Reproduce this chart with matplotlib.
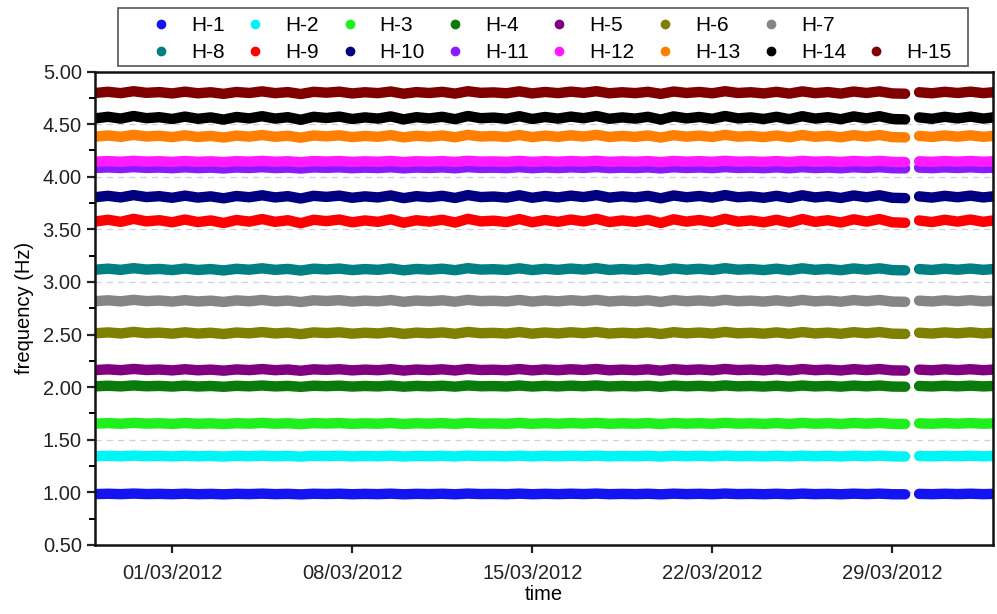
import numpy as np
import pandas as pd
import matplotlib
matplotlib.use("Agg")
import matplotlib.pyplot as plt
import matplotlib.dates as mdates
from matplotlib.lines import Line2D
from matplotlib.patches import Rectangle

plt.rcParams['font.family'] = ['Liberation Sans', 'DejaVu Sans']

# series names, mean frequency (Hz) and size of the daily swing (Hz)
names = ['H-1', 'H-2', 'H-3', 'H-4', 'H-5', 'H-6', 'H-7', 'H-8',
         'H-9', 'H-10', 'H-11', 'H-12', 'H-13', 'H-14', 'H-15']
base_freq = [0.985, 1.345, 1.655, 2.010, 2.165, 2.515, 2.820, 3.120,
             3.580, 3.810, 4.085, 4.145, 4.385, 4.560, 4.800]
swing = [0.004, 0.005, 0.006, 0.007, 0.009, 0.011, 0.011, 0.012,
         0.022, 0.017, 0.007, 0.007, 0.014, 0.019, 0.014]
colors = ['#1414f0', '#00f5f5', '#1ef01e', '#0a7a0a', '#800080', '#808000',
          '#858585', '#008080', '#ff0000', '#000080', '#8a1aff', '#ff1aff',
          '#ff8000', '#000000', '#800000']

swing_seg1 = [-0.3, 0.5, -0.4, 0.9, -0.2, 0.3, -0.6, 0.6,
              -0.5, 0.2, -0.9, 0.4, -0.3, 0.8, -0.4, 0.3,
              -1.0, 0.5, -0.1, 0.6, -0.6, 0.2, -0.4, 0.7,
              -0.8, 0.3, -0.3, 0.5, -0.7, 0.9, -0.2, 0.1,
              -0.5, 0.8, -0.6, 0.4, -0.4, 0.6, -0.2, 0.9,
              -0.5, 0.2, -0.4, 0.5, -0.9, 0.7, -0.3, 0.4,
              -0.5, 0.9, -0.3, 0.2, -0.6, 0.5, -0.7, 0.8,
              -0.4, 0.3, -0.7, 0.7, -0.3, 0.8, -0.6, -0.8]
swing_seg2 = [0.2, -0.5, 0.5, -0.3, 0.6, -0.4, 0.4]

t1 = pd.date_range('2012-02-27 00:00', periods=len(swing_seg1), freq='12h')
t2 = pd.date_range('2012-03-30 01:00', periods=len(swing_seg2), freq='12h')

xticks = pd.to_datetime(['2012-03-01', '2012-03-08', '2012-03-15',
                         '2012-03-22', '2012-03-29'])

W, H = 997, 614
fig = plt.figure(figsize=(W / 100, H / 100), dpi=100)
ax = fig.add_axes([95 / W, (H - 545) / H, 898 / W, 473.5 / H])

for y in np.arange(1.0, 5.0, 0.5):
    ax.axhline(y, color='#cfd0dc', lw=0.9, ls=(0, (5, 4)), zorder=0)

for name, f0, a, c in zip(names, base_freq, swing, colors):
    for tt, ww in ((t1, swing_seg1), (t2, swing_seg2)):
        vals = f0 + a * np.array(ww)
        ax.plot(tt, vals, color=c, lw=7.5, solid_capstyle='round',
                solid_joinstyle='round', zorder=2)

ax.set_xlim(pd.Timestamp('2012-02-27 00:00'), pd.Timestamp('2012-04-01 22:00'))
ax.set_ylim(0.5, 5.0)
ax.set_xticks(xticks)
ax.xaxis.set_major_formatter(mdates.DateFormatter('%d/%m/%Y'))
ax.set_yticks(np.arange(0.5, 5.01, 0.5))
ax.set_yticks(np.arange(0.75, 5.0, 0.5), minor=True)
ax.yaxis.set_major_formatter(plt.FormatStrFormatter('%.2f'))
ax.tick_params(axis='both', which='major', direction='out', length=6, width=1.6,
               labelsize=14.5, colors='#222222')
ax.tick_params(axis='y', which='minor', direction='out', length=4, width=1.4)
ax.tick_params(axis='x', which='major', pad=8)
for s in ax.spines.values():
    s.set_linewidth(1.8)
    s.set_color('#111111')

ax.set_xlabel('time', fontsize=14.5, labelpad=1)
ax.set_ylabel('frequency (Hz)', fontsize=14.5, labelpad=6)

# legend: 2 rows, first row has 7 entries, second row 8
handles = [Line2D([], [], ls='none', marker='o', ms=6, mec=c, mfc=c) for c in colors]
blank = Line2D([], [], ls='none')
order_h, order_l = [], []
for k in range(8):
    top = k if k < 7 else None
    bot = k + 7
    order_h.append(handles[top] if top is not None else blank)
    order_l.append(names[top] if top is not None else '')
    order_h.append(handles[bot])
    order_l.append(names[bot])

fig.patches.append(Rectangle((118 / W, 1 - 66 / H), 850 / W, 58 / H,
                             transform=fig.transFigure, fill=False,
                             edgecolor='#555555', lw=1.2))
fig.legend(order_h, order_l, ncol=8, loc='upper left',
           bbox_to_anchor=(151 / W, 1 - 16 / H), frameon=False,
           fontsize=15, handlelength=1.0, handletextpad=0.95,
           columnspacing=0.95, labelspacing=0.38, borderpad=0,
           borderaxespad=0)

fig.savefig('out.png', dpi=100)
